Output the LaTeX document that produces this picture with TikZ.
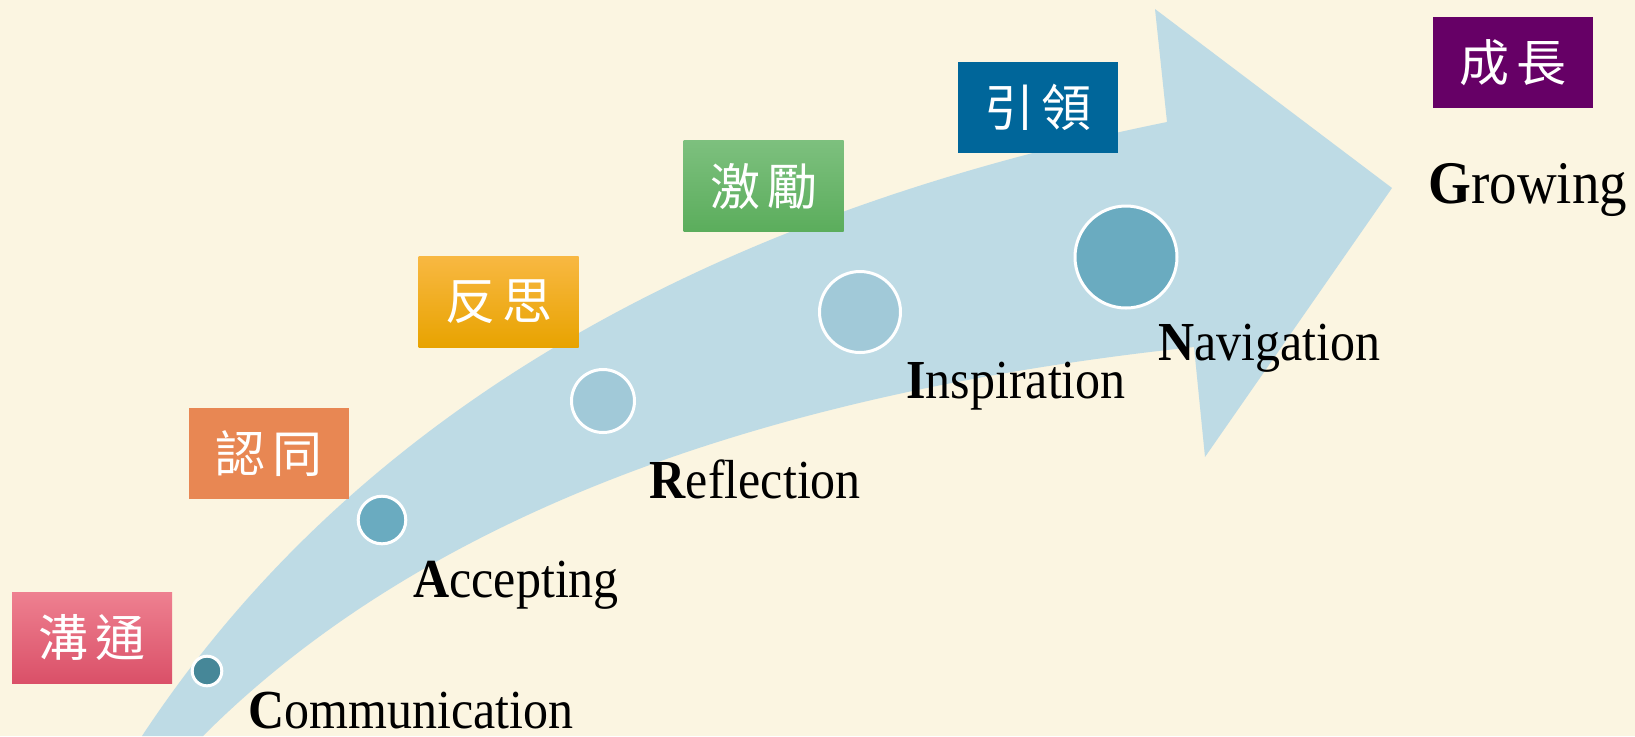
\documentclass[tikz,border=0pt]{standalone}
\usepackage{fontspec}
\usepackage{graphicx}
\setmainfont{Liberation Serif}
\newfontfamily\cjk{Noto Sans CJK TC}
\definecolor{bgcream}{HTML}{FBF5E1}
\definecolor{bandblue}{HTML}{BEDBE5}
\definecolor{dotdark}{HTML}{468798}
\definecolor{dotmid}{HTML}{6AABC0}
\definecolor{dotlight}{HTML}{A1C9D8}
\newcommand\initword[2]{\scalebox{1}[1.1]{\textbf{#1}#2}}
\newcommand\zhpair[2]{#1\hspace{3.5pt}#2}

\begin{document}
\begin{tikzpicture}[x=0.5pt, y=-0.5pt,
  tag/.style={minimum width=80pt, minimum height=45.5pt, inner sep=0pt,
    text=white, font=\cjk\fontsize{25}{25}\selectfont},
  dot/.style={circle, draw=white, line width=1.5pt, inner sep=0pt},
  word/.style={anchor=base west, inner sep=0pt, font=\fontsize{25}{30}\selectfont}]
\useasboundingbox (0,0) rectangle (1635,736);
\fill[bgcream] (0,0) rectangle (1635,736);

% Arrow band
\fill[bandblue] (142,736) .. controls (345,428) and (684,220) .. (1167,122)
  -- (1155,9) -- (1392,188) -- (1205,457) -- (1194,347)
  .. controls (744,395) and (414,525) .. (203,736) -- cycle;

% Step dots
\draw (207,671) node[dot,fill=dotdark,minimum size=14.8pt] (c) {};
\draw (382,520) node[dot,fill=dotmid,minimum size=23.8pt] (a) {};
\draw (603,401) node[dot,fill=dotlight,minimum size=31.5pt] (r) {};
\draw (860,312) node[dot,fill=dotlight,minimum size=40.5pt] (i) {};
\draw (1126,257) node[dot,fill=dotmid,minimum size=51pt] (n) {};

% Step words
\draw (248,728) node[word] (cword) {\initword{C}{ommunication}};
\draw (413,597) node[word] (aword) {\initword{A}{ccepting}};
\draw (649,498) node[word] (rword) {\initword{R}{eflection}};
\draw (906,398) node[word] (iword) {\initword{I}{nspiration}};
\draw (1158,360) node[word] (nword) {\initword{N}{avigation}};
\draw (1428,203) node[word,font=\fontsize{27.5}{30}\selectfont] (gword) {\initword{G}{rowing}};

% Chinese tags
\draw (92,638) node[tag,top color={rgb,255:red,238;green,128;blue,144},
  middle color={rgb,255:red,237;green,100;blue,120},
  bottom color={rgb,255:red,218;green,80;blue,104}] (ctag) {\zhpair{溝}{通}};
\draw (268.5,453.5) node[tag,fill={rgb,255:red,232;green,135;blue,83}] (atag) {\zhpair{認}{同}};
\draw (498.5,302) node[tag,top color={rgb,255:red,248;green,184;blue,66},
  middle color={rgb,255:red,253;green,180;blue,0},
  bottom color={rgb,255:red,232;green,163;blue,0}] (rtag) {\zhpair{反}{思}};
\draw (763.5,186) node[tag,top color={rgb,255:red,125;green,192;blue,126},
  bottom color={rgb,255:red,91;green,173;blue,92}] (itag) {\zhpair{激}{勵}};
\draw (1037.5,107.5) node[tag,fill={rgb,255:red,0;green,102;blue,154}] (ntag) {\zhpair{引}{領}};
\draw (1512.5,62.5) node[tag,fill={rgb,255:red,102;green,0;blue,102}] (gtag) {\zhpair{成}{長}};

\end{tikzpicture}
\end{document}
